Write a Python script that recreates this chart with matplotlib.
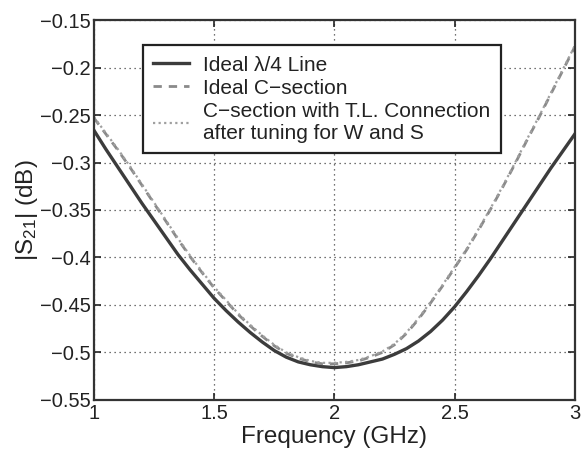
import matplotlib
matplotlib.use("Agg")
import matplotlib.pyplot as plt

plt.rcParams['font.family'] = ['Liberation Sans', 'DejaVu Sans']
plt.rcParams['mathtext.fontset'] = 'custom'
plt.rcParams['mathtext.rm'] = 'Liberation Sans'
plt.rcParams['mathtext.it'] = 'Liberation Sans'

freq = [1.00, 1.05, 1.10, 1.15, 1.20, 1.25, 1.30, 1.35, 1.40, 1.45, 1.50,
        1.55, 1.60, 1.65, 1.70, 1.75, 1.80, 1.85, 1.90, 1.95, 2.00,
        2.05, 2.10, 2.15, 2.20, 2.25, 2.30, 2.35, 2.40, 2.45, 2.50,
        2.55, 2.60, 2.65, 2.70, 2.75, 2.80, 2.85, 2.90, 2.95, 3.00]
ideal_qw = [-0.266, -0.286, -0.305, -0.324, -0.343, -0.361, -0.379, -0.397, -0.413, -0.428, -0.443,
            -0.456, -0.468, -0.479, -0.489, -0.498, -0.505, -0.510, -0.513, -0.515, -0.516,
            -0.515, -0.513, -0.510, -0.507, -0.502, -0.496, -0.488, -0.478, -0.466, -0.452,
            -0.436, -0.419, -0.401, -0.382, -0.363, -0.344, -0.325, -0.306, -0.288, -0.270]
ideal_c = [-0.253, -0.270, -0.287, -0.305, -0.324, -0.343, -0.362, -0.381, -0.399, -0.416, -0.432,
           -0.446, -0.460, -0.472, -0.483, -0.493, -0.501, -0.506, -0.510, -0.512, -0.512,
           -0.511, -0.509, -0.505, -0.500, -0.492, -0.480, -0.465, -0.448, -0.430, -0.411,
           -0.392, -0.371, -0.349, -0.326, -0.302, -0.277, -0.253, -0.228, -0.203, -0.178]
c_tl = [-0.252, -0.269, -0.286, -0.304, -0.323, -0.342, -0.361, -0.380, -0.398, -0.415, -0.431,
        -0.445, -0.459, -0.471, -0.482, -0.492, -0.500, -0.505, -0.509, -0.511, -0.511,
        -0.510, -0.508, -0.504, -0.499, -0.491, -0.479, -0.464, -0.447, -0.429, -0.410,
        -0.391, -0.370, -0.348, -0.325, -0.301, -0.276, -0.252, -0.227, -0.202, -0.177]

labels = ["Ideal \u03bb/4 Line", "Ideal C\u2212section",
          "C\u2212section with T.L. Connection\nafter tuning for W and S"]
xticks = [1, 1.5, 2, 2.5, 3]
xticklabels = ["1", "1.5", "2", "2.5", "3"]
yticks = [-0.55, -0.5, -0.45, -0.4, -0.35, -0.3, -0.25, -0.2, -0.15]
yticklabels = ["\u22120.55", "\u22120.5", "\u22120.45", "\u22120.4", "\u22120.35",
               "\u22120.3", "\u22120.25", "\u22120.2", "\u22120.15"]

fig = plt.figure(figsize=(5.83, 4.57), dpi=100)
ax = fig.add_axes([0.161, 0.125, 0.825, 0.831])

ax.plot(freq, ideal_qw, color='#3c3c3c', lw=2.4, ls='-', label=labels[0])
ax.plot(freq, ideal_c, color='#8a8a8a', lw=2.0, ls=(0, (3, 2.5)), label=labels[1])
ax.plot(freq, c_tl, color='#a0a0a0', lw=1.6, ls=(0, (1, 1.5)), label=labels[2])

ax.set_xlim(1, 3)
ax.set_ylim(-0.55, -0.15)
ax.set_xticks(xticks)
ax.set_xticklabels(xticklabels)
ax.set_yticks(yticks)
ax.set_yticklabels(yticklabels)
ax.tick_params(direction='in', length=5, width=1.2, labelsize=14.5, colors='#222222',
               top=True, right=True)
ax.tick_params(axis='y', pad=2)
ax.tick_params(axis='x', pad=3)
ax.grid(True, color='#444444', ls=(0, (1, 3)), lw=0.9)
for s in ax.spines.values():
    s.set_linewidth(1.6)
    s.set_color('#333333')

ax.set_xlabel("Frequency (GHz)", fontsize=17.5, color='#222222', labelpad=2)
ax.set_ylabel(r"|S$_{21}$| (dB)", fontsize=17.5, color='#222222', labelpad=0)

leg = ax.legend(loc='upper left', bbox_to_anchor=(0.102, 0.934), fontsize=15,
                frameon=True, fancybox=False, edgecolor='#222222', framealpha=1,
                handlelength=1.7, handletextpad=0.7, borderpad=0.5, labelspacing=0.2,
                borderaxespad=0)
leg.get_frame().set_linewidth(1.6)
for t in leg.get_texts():
    t.set_color('#222222')

fig.savefig("out.png", dpi=100)
